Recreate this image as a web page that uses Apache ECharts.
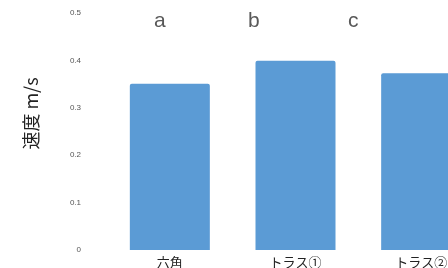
<!DOCTYPE html>
<html><head><meta charset="utf-8">
<script src="https://cdn.jsdelivr.net/npm/echarts@6/dist/echarts.min.js"></script>
<style>html,body{margin:0;padding:0;background:#fff}#c{width:448px;height:268px}</style>
</head><body><div id="c"></div>
<script>
const categories = ['六角', 'トラス①', 'トラス②'];
const speedValues = [0.351, 0.399, 0.373];
const yTicks = [0, 0.1, 0.2, 0.3, 0.4, 0.5];
const groupLetters = ['a', 'b', 'c'];

const chart = echarts.init(document.getElementById('c'));
chart.setOption({
  animation: false,
  backgroundColor: '#fff',
  grid: { left: 107, width: 377, top: 13, bottom: 18, outerBoundsMode: 'none', containLabel: false },
  graphic: groupLetters.map((t, i) => ({
    type: 'text', left: [154, 248, 348][i], top: 11,
    style: { text: t, fontSize: 21, fill: '#595959', fontFamily: 'Liberation Sans, Arial' }
  })),
  xAxis: {
    type: 'category', data: categories,
    axisLine: { show: false }, axisTick: { show: false },
    axisLabel: { color: '#222', fontSize: 13, margin: 6, fontFamily: 'Noto Sans CJK JP' }
  },
  yAxis: {
    type: 'value', min: 0, max: 0.5, interval: 0.1,
    name: '速度 m/s', nameLocation: 'middle', nameGap: 67,
    nameTextStyle: { fontSize: 18, color: '#222', fontFamily: 'Noto Sans CJK JP', padding: [0, 0, 0, 36] },
    splitLine: { show: false }, axisLine: { show: false }, axisTick: { show: false },
    axisLabel: { color: '#555', fontSize: 8, margin: 26,
      formatter: v => { const f = yTicks.find(t => Math.abs(t - v) < 1e-9); return f === 0 ? '0' : String(+v.toFixed(1)); } }
  },
  series: [{
    type: 'bar', data: speedValues, barWidth: 80,
    itemStyle: { color: '#5b9bd5', borderRadius: [2, 2, 0, 0] }
  }]
});
</script></body></html>
